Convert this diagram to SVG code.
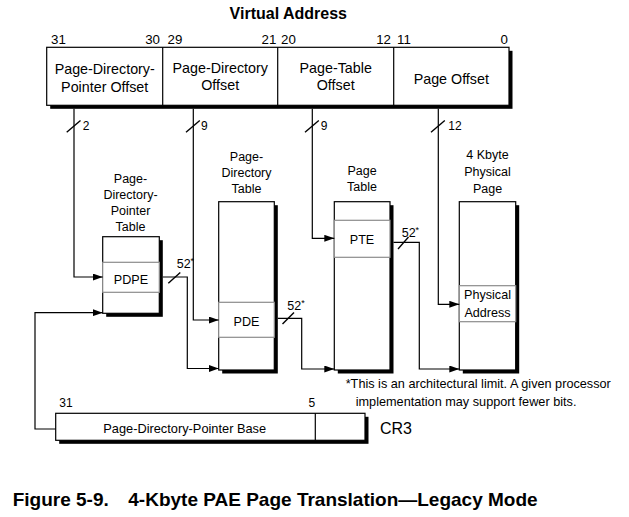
<svg xmlns="http://www.w3.org/2000/svg" width="629" height="517" viewBox="0 0 629 517">
<defs>
<style>
text{font-family:"Liberation Sans",Arial,sans-serif;fill:#000}
.t{font-size:16px;font-weight:bold}
.bit{font-size:13.3px}
.fld{font-size:14.3px;text-anchor:middle}
.lbl{font-size:12.5px;text-anchor:middle}
.ent{font-size:12.6px;text-anchor:middle}
.w{font-size:12px}
.fn{font-size:12.7px}
.cap{font-size:19px;font-weight:bold}
.box{fill:#fff;stroke:#000;stroke-width:1.2}
.sh{fill:#000}
.row{fill:#fff;stroke:#8c8c8c;stroke-width:1.2}
.ln{fill:none;stroke:#000;stroke-width:1.2}
.sl{stroke:#000;stroke-width:1.4}
</style>
<marker id="ah" markerUnits="userSpaceOnUse" markerWidth="11" markerHeight="7" refX="10" refY="3.5" orient="auto">
<path d="M0,0 L10,3.5 L0,7 Z" fill="#000"/>
</marker>
</defs>
<rect width="629" height="517" fill="#fff"/>

<g id="virtual-address">
<text class="t" x="288.3" y="19" text-anchor="middle">Virtual Address</text>
<text class="bit" x="51" y="44">31</text>
<text class="bit" x="160" y="44" text-anchor="end">30</text>
<text class="bit" x="167.5" y="44">29</text>
<text class="bit" x="276.3" y="44" text-anchor="end">21</text>
<text class="bit" x="281" y="44">20</text>
<text class="bit" x="391" y="44" text-anchor="end">12</text>
<text class="bit" x="397" y="44">11</text>
<text class="bit" x="508" y="44" text-anchor="end">0</text>
<rect class="sh" x="50.2" y="50.8" width="462.3" height="58"/>
<rect class="box" x="46.7" y="47.3" width="462.3" height="58"/>
<line class="ln" x1="162.7" y1="47.3" x2="162.7" y2="105.3"/>
<line class="ln" x1="277.7" y1="47.3" x2="277.7" y2="105.3"/>
<line class="ln" x1="393.7" y1="47.3" x2="393.7" y2="105.3"/>
<text class="fld" x="104.7" y="74">Page-Directory-</text>
<text class="fld" x="104.7" y="91.7">Pointer Offset</text>
<text class="fld" x="220.2" y="72.7">Page-Directory</text>
<text class="fld" x="220.2" y="90">Offset</text>
<text class="fld" x="335.7" y="72.7">Page-Table</text>
<text class="fld" x="335.7" y="90">Offset</text>
<text class="fld" x="451.3" y="83.5">Page Offset</text>
</g>

<g id="pdpt">
<text class="lbl" x="130.5" y="183.3">Page-</text>
<text class="lbl" x="130.5" y="199.3">Directory-</text>
<text class="lbl" x="130.5" y="215">Pointer</text>
<text class="lbl" x="130.5" y="230.7">Table</text>
<rect class="sh" x="106.2" y="240.2" width="56.6" height="76.6"/>
<rect class="box" x="102.7" y="236.7" width="56.6" height="76.6"/>
<rect class="row" x="102.7" y="262.3" width="56.6" height="30"/>
<text class="ent" x="131" y="284">PDPE</text>
</g>

<g id="page-directory">
<text class="lbl" x="246.5" y="160.7">Page-</text>
<text class="lbl" x="246.5" y="176.7">Directory</text>
<text class="lbl" x="246.5" y="192.7">Table</text>
<rect class="sh" x="222.2" y="205.2" width="55.6" height="168.3"/>
<rect class="box" x="218.7" y="201.7" width="55.6" height="168.3"/>
<rect class="row" x="218.7" y="302.3" width="55.6" height="35"/>
<text class="ent" x="246.5" y="326">PDE</text>
</g>

<g id="page-table">
<text class="lbl" x="362" y="175">Page</text>
<text class="lbl" x="362" y="190.7">Table</text>
<rect class="sh" x="337.8" y="205.2" width="55.7" height="168.3"/>
<rect class="box" x="334.3" y="201.7" width="55.7" height="168.3"/>
<rect class="row" x="334.3" y="220.3" width="55.7" height="37"/>
<text class="ent" x="362" y="244.3">PTE</text>
</g>

<g id="physical-page">
<text class="lbl" x="487.5" y="159.3">4 Kbyte</text>
<text class="lbl" x="487.5" y="176">Physical</text>
<text class="lbl" x="487.5" y="192.7">Page</text>
<rect class="sh" x="462.8" y="205.2" width="56.4" height="168.3"/>
<rect class="box" x="459.3" y="201.7" width="56.4" height="168.3"/>
<rect class="row" x="459.3" y="285.7" width="56.4" height="36"/>
<text class="ent" x="487.5" y="299">Physical</text>
<text class="ent" x="487.5" y="316.7">Address</text>
</g>

<g id="cr3">
<text class="w" x="59.3" y="407.3">31</text>
<text class="w" x="315.3" y="407.3" text-anchor="end">5</text>
<rect class="sh" x="59.2" y="416.8" width="309.3" height="27"/>
<rect class="box" x="55.7" y="413.3" width="309.3" height="27"/>
<line class="ln" x1="315.3" y1="413.3" x2="315.3" y2="440.3"/>
<text class="ent" x="184.7" y="432.7" style="font-size:12.8px">Page-Directory-Pointer Base</text>
<text x="380" y="434" style="font-size:16px">CR3</text>
</g>

<g id="connectors">
<polyline class="ln" points="74,108.8 74,277 102.7,277" marker-end="url(#ah)"/>
<polyline class="ln" points="193.3,108.8 193.3,320 218.7,320" marker-end="url(#ah)"/>
<polyline class="ln" points="312.3,108.8 312.3,238.3 334.3,238.3" marker-end="url(#ah)"/>
<polyline class="ln" points="438.3,108.8 438.3,304.3 459.3,304.3" marker-end="url(#ah)"/>
<polyline class="ln" points="162.8,277 187.3,277 187.3,368.5 218.7,368.5" marker-end="url(#ah)"/>
<polyline class="ln" points="277.8,318.3 301.7,318.3 301.7,369 334.3,369" marker-end="url(#ah)"/>
<polyline class="ln" points="393.5,242.3 419.3,242.3 419.3,369 459.3,369" marker-end="url(#ah)"/>
<polyline class="ln" points="55.7,429 35,429 35,312.7 102.7,312.7" marker-end="url(#ah)"/>
<line class="sl" x1="66.7" y1="132.3" x2="80.5" y2="120.5"/>
<line class="sl" x1="186" y1="132.3" x2="199.8" y2="120.5"/>
<line class="sl" x1="305" y1="132.3" x2="318.8" y2="120.5"/>
<line class="sl" x1="431" y1="132.3" x2="444.8" y2="120.5"/>
<text class="w" x="82.7" y="129.5">2</text>
<text class="w" x="201" y="129.5">9</text>
<text class="w" x="320.7" y="129.5">9</text>
<text class="w" x="448.3" y="129.5">12</text>
<line class="sl" x1="168.3" y1="283.3" x2="180.3" y2="272.5"/>
<line class="sl" x1="282.5" y1="324" x2="294" y2="312.5"/>
<line class="sl" x1="398" y1="249" x2="408.5" y2="237"/>
<text class="w" x="176.7" y="268.3" style="font-size:12.5px">52<tspan font-size="9" dy="-4">*</tspan></text>
<text class="w" x="287.3" y="310" style="font-size:12.5px">52<tspan font-size="9" dy="-4">*</tspan></text>
<text class="w" x="401.7" y="236.7" style="font-size:12.5px">52<tspan font-size="9" dy="-4">*</tspan></text>
</g>

<g id="notes">
<text class="fn" x="345.7" y="388.3">*This is an architectural limit. A given processor</text>
<text class="fn" x="355.7" y="405.7">implementation may support fewer bits.</text>
<text class="cap" x="12.7" y="506">Figure 5-9.</text>
<text class="cap" x="128.3" y="506">4-Kbyte PAE Page Translation—Legacy Mode</text>
</g>
</svg>
